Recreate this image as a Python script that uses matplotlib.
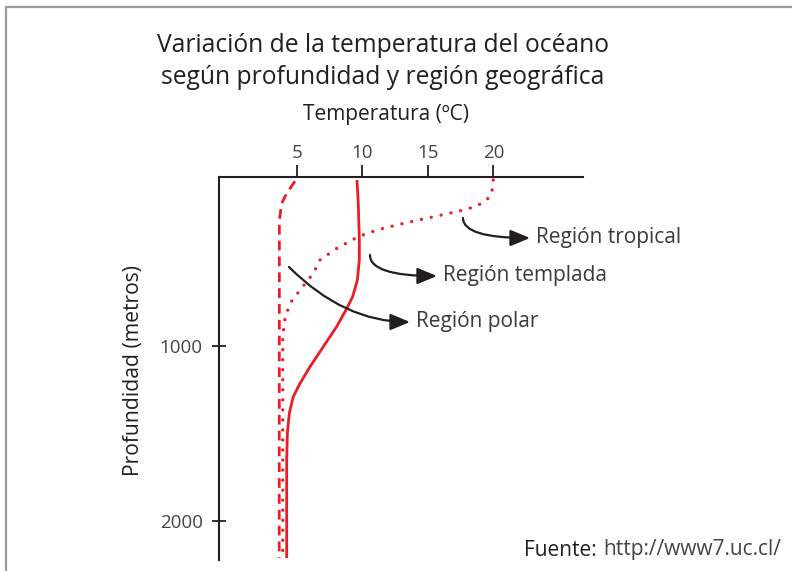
import matplotlib
matplotlib.use("Agg")
import matplotlib.pyplot as plt
from matplotlib.patches import Rectangle

plt.rcParams['font.family'] = ['Open Sans', 'DejaVu Sans']

# data: temperature (C) vs depth (m)
trop_temp = [20.0, 19.88, 19.5, 18.73, 17.72, 15.68, 13.14, 11.1, 9.7, 8.05, 6.78,
             6.27, 5.26, 4.49, 4.11, 3.94, 3.94]
trop_depth = [53, 129, 167, 202, 225, 259, 301, 339, 377, 444, 510,
              586, 682, 758, 843, 949, 2214]

templ_temp = [9.6, 9.7, 9.78, 9.78, 9.63, 9.27, 8.76, 8.05, 7.03, 6.02, 5.26,
              4.74, 4.44, 4.29, 4.24, 4.24]
templ_depth = [53, 186, 396, 510, 625, 720, 796, 891, 1006, 1120, 1215,
               1291, 1386, 1501, 1653, 2214]

polar_temp = [4.87, 4.24, 3.86, 3.68, 3.67]
polar_depth = [60, 129, 186, 282, 2214]

xticks = [5, 10, 15, 20]
yticks = [1000, 2000]

W, H = 792, 571
RED = '#ed1c24'
DARK = '#231f20'
GREY = '#444444'


def fx(px):
    return px / W


def fy(py):
    return 1 - py / H


fig = plt.figure(figsize=(W / 100, H / 100), dpi=100)

# outer frame (right and bottom edges are cut off)
fig.patches.append(Rectangle((fx(6), fy(H + 20)), fx(W + 20), fy(7) - fy(H + 20),
                             transform=fig.transFigure, fill=False,
                             edgecolor='#9a9a9a', linewidth=1.6))

ax = fig.add_axes([fx(219.3), fy(560), fx(583) - fx(219.3), fy(176.7) - fy(560)])
ax.set_xlim(-0.9, 26.84)
ax.set_ylim(2225, 34)

for s in ['right', 'bottom']:
    ax.spines[s].set_visible(False)
for s in ['top', 'left']:
    ax.spines[s].set_linewidth(1.5)
    ax.spines[s].set_color(DARK)

ax.xaxis.tick_top()
ax.set_xticks(xticks)
ax.set_yticks(yticks)
ax.tick_params(axis='x', direction='out', length=8.5, width=1.3, color=DARK,
               labelsize=13.5, labelcolor=GREY, pad=2)
ax.tick_params(axis='y', direction='inout', length=10, width=1.3, color=DARK,
               labelsize=13.5, labelcolor=GREY, pad=7)

ax.plot(trop_temp, trop_depth, color=RED, lw=2.4, dash_capstyle='round',
        linestyle=(0, (0.01, 3.0)))
ax.plot(templ_temp, templ_depth, color=RED, lw=2.0, solid_capstyle='butt',
        solid_joinstyle='round')
ax.plot(polar_temp, polar_depth, color=RED, lw=2.0, linestyle=(0, (3.5, 2.2)))

fig.text(fx(383), fy(45), 'Variación de la temperatura del océano',
         ha='center', va='center', fontsize=17.7, color=DARK)
fig.text(fx(383), fy(77), 'según profundidad y región geográfica',
         ha='center', va='center', fontsize=17.7, color=DARK)
fig.text(fx(386), fy(115), 'Temperatura (ºC)', ha='center', va='center',
         fontsize=15, color=DARK)
fig.text(fx(133), fy(370), 'Profundidad (metros)', ha='center', va='center',
         rotation=90, fontsize=15.2, color=DARK)

arrow = dict(arrowstyle='-|>,head_length=0.6,head_width=0.25', color=DARK,
             lw=1.6, mutation_scale=20, shrinkA=0, shrinkB=0)
labels = [
    ('Región tropical', (463, 218), (530, 238), 'angle3,angleA=90,angleB=0'),
    ('Región templada', (370, 255), (437, 276), 'angle3,angleA=90,angleB=0'),
    ('Región polar', (289, 267), (410, 322), 'angle3,angleA=-45,angleB=0'),
]
for txt, p0, p1, cs in labels:
    ax.annotate('', xy=(fx(p1[0]), fy(p1[1])), xycoords='figure fraction',
                xytext=(fx(p0[0]), fy(p0[1])), textcoords='figure fraction',
                arrowprops=dict(arrow, connectionstyle=cs))
    fig.text(fx(p1[0] + 6), fy(p1[1]), txt, ha='left', va='center',
             fontsize=15, color='#3a3a3a')

fig.text(fx(524), fy(550), 'Fuente:', ha='left', va='center', fontsize=15,
         color=DARK, fontweight='medium')
fig.text(fx(603), fy(550), 'http://www7.uc.cl/', ha='left', va='center',
         fontsize=15, color='#444444')

fig.savefig('out.png', dpi=100)
